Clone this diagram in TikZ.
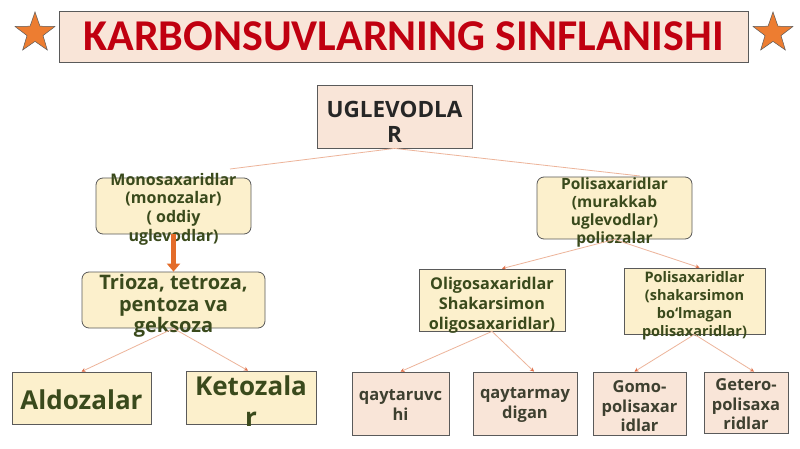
\documentclass[tikz,border=0pt]{standalone}
\usepackage{fontspec}
\setmainfont{Open Sans}
\newfontfamily\titlefont{Carlito}
\usetikzlibrary{shapes.geometric,arrows.meta}
\definecolor{titlered}{HTML}{C00010}
\definecolor{pinkfill}{HTML}{F9E5D8}
\definecolor{yelfill}{HTML}{FCF0CC}
\definecolor{boxline}{HTML}{5A5A5A}
\definecolor{dkgreen}{HTML}{3A4A1C}
\definecolor{dkolive}{HTML}{3E4030}
\definecolor{starorange}{HTML}{ED7D31}
\definecolor{conn}{HTML}{EDB49A}
\definecolor{tipc}{HTML}{E0704A}
\definecolor{thickarrow}{HTML}{E36C2A}
\begin{document}
\begin{tikzpicture}[x=1pt,y=-1pt,
  base/.style={draw=boxline, line width=0.8pt, inner sep=0pt},
  pinkbox/.style={base, fill=pinkfill},
  yelbox/.style={base, fill=yelfill},
  roundbox/.style={base, fill=yelfill, rounded corners=7pt},
  txt/.style={align=center, text=dkgreen, font=\bfseries},
  link/.style={draw=conn, line width=0.8pt},
  linka/.style={link, -{Stealth[length=4pt,width=4pt,color=tipc]}},
  starstyle/.style={star, star points=5, star point ratio=2.5, minimum size=42pt, inner sep=0pt, fill=starorange, draw=boxline, line width=0.5pt}
]
\useasboundingbox (0,0) rectangle (800,449);
\fill[white] (0,0) rectangle (800,449);

% title
\node[pinkbox, minimum width=689pt, minimum height=51pt] (title) at (403.5,36.5) {};
\node[text=titlered, font=\titlefont\bfseries\fontsize{44}{48}\selectfont] (titletxt) at (title.center) {KARBONSUVLARNING SINFLANISHI};
\node[starstyle] (starL) at (35,33) {};
\node[starstyle] (starR) at (773,33) {};

% boxes
\node[pinkbox, minimum width=155pt, minimum height=63pt] (ug) at (394.5,116.5) {};
\node[roundbox, minimum width=155pt, minimum height=56pt] (mono) at (173.5,206) {};
\node[roundbox, minimum width=183pt, minimum height=56pt] (trio) at (173.5,300) {};
\node[roundbox, minimum width=155pt, minimum height=62pt] (polit) at (614.5,208) {};
\node[yelbox, minimum width=146pt, minimum height=62pt] (oligo) at (492,300) {};
\node[yelbox, minimum width=141pt, minimum height=66pt] (polir) at (694.5,301) {};
\node[yelbox, minimum width=139pt, minimum height=52pt] (ald) at (81.5,398) {};
\node[yelbox, minimum width=130pt, minimum height=53pt] (ket) at (251,397.5) {};
\node[pinkbox, minimum width=97pt, minimum height=63pt] (qr) at (400.5,403.5) {};
\node[pinkbox, minimum width=104pt, minimum height=63pt] (qm) at (525,403.5) {};
\node[pinkbox, minimum width=93pt, minimum height=63pt] (gomo) at (639.5,403.5) {};
\node[pinkbox, minimum width=84pt, minimum height=61pt] (get) at (746,402.5) {};

% texts
\node[txt, text=black!85, font=\bfseries\fontsize{22.5}{25}\selectfont] (ugt) at ([yshift=-5pt]ug.center) {UGLEVODLA\\R};
\node[txt, font=\bfseries\fontsize{16}{18.6}\selectfont] (monot) at ([yshift=-3pt]mono.center) {Monosaxaridlar\\(monozalar)\\( oddiy\\uglevodlar)};
\node[txt, font=\bfseries\fontsize{20}{21.5}\selectfont] (triot) at ([yshift=-6pt]trio.center) {Trioza, tetroza,\\pentoza va\\geksoza};
\node[txt, font=\bfseries\fontsize{15.5}{17.7}\selectfont] (politt) at ([yshift=-4.5pt]polit.center) {Polisaxaridlar\\(murakkab\\uglevodlar)\\poliozalar};
\node[txt, font=\bfseries\fontsize{16.2}{20}\selectfont] (oligot) at ([yshift=-5pt]oligo.center) {Oligosaxaridlar\\Shakarsimon\\oligosaxaridlar)};
\node[txt, font=\bfseries\fontsize{14.5}{18}\selectfont] (polirt) at ([yshift=-5pt]polir.center) {Polisaxaridlar\\(shakarsimon\\bo‘lmagan\\polisaxaridlar)};
\node[txt, font=\bfseries\fontsize{26}{30}\selectfont] (aldt) at ([yshift=-2pt]ald.center) {Aldozalar};
\node[txt, font=\bfseries\fontsize{26}{31}\selectfont] (kett) at ([yshift=-4pt]ket.center) {Ketozala\\r};
\node[txt, text=dkolive, font=\bfseries\fontsize{16.5}{20}\selectfont] (qrt) at ([yshift=-2pt]qr.center) {qaytaruvc\\hi};
\node[txt, text=dkolive, font=\bfseries\fontsize{16.5}{20}\selectfont] (qmt) at ([yshift=-2pt]qm.center) {qaytarmay\\digan};
\node[txt, text=dkolive, font=\bfseries\fontsize{16.5}{19.5}\selectfont] (gomot) at ([yshift=-3pt]gomo.center) {Gomo-\\polisaxar\\idlar};
\node[txt, text=dkolive, font=\bfseries\fontsize{16.5}{19.5}\selectfont] (gett) at ([yshift=-2pt]get.center) {Getero-\\polisaxa\\ridlar};

% connectors
\coordinate (ugL) at (230,169);
\coordinate (ugR) at (640,176);
\draw[link] (ug.south) -- (ugL);
\draw[link] (ug.south) -- (ugR);
\draw[linka] (polit.south) -- ([xshift=10pt]oligo.north);
\draw[linka] (polit.south) -- ([xshift=5pt]polir.north);
\draw[linka] (trio.south) -- (ald.north);
\draw[linka] (trio.south) -- ([xshift=-3pt]ket.north);
\draw[linka] (oligo.south) -- (qr.north);
\draw[linka] (oligo.south) -- ([xshift=9pt]qm.north);
\draw[linka] (polir.south) -- ([xshift=-5pt]gomo.north);
\draw[linka] (polir.south) -- ([xshift=8pt]get.north);
\draw[draw=thickarrow, line width=5pt, -{Triangle[width=13pt,length=8pt]}] (mono.south) -- (trio.north);
\end{tikzpicture}
\end{document}
